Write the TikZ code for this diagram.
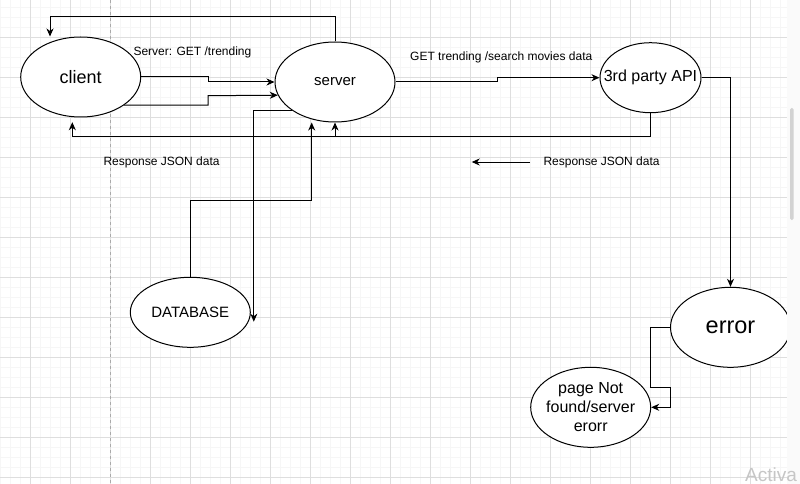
\documentclass[tikz,border=0pt]{standalone}
\usepackage{fontspec}
\setmainfont{Liberation Sans}
\usetikzlibrary{shapes.geometric,arrows.meta}
\definecolor{gmajor}{RGB}{222,222,222}
\definecolor{gminor}{RGB}{246,246,246}
\definecolor{gdash}{RGB}{170,170,170}
\begin{document}
\begin{tikzpicture}[x=1pt,y=-1pt,
  bub/.style={draw=black,line width=1pt,ellipse,inner sep=0pt,fill=white,align=center},
  arr/.style={draw=black,line width=1pt,-{Stealth[length=8pt,width=7pt,inset=2.5pt]}},
  lbl/.style={inner sep=0pt,anchor=west,font=\fontsize{12}{14}\selectfont}]
\useasboundingbox (0,0) rectangle (800,484);
\fill[white] (0,0) rectangle (800,484);
% grid
\begin{scope}
\clip (0,0) rectangle (787,484);
\foreach \x in {0,10,...,780} \draw[gminor,line width=1pt] (\x,0) -- (\x,484);
\foreach \y in {7.3,17.3,...,480} \draw[gminor,line width=1pt] (0,\y) -- (787,\y);
\foreach \x in {30,70,...,790} \draw[gmajor,line width=1pt] (\x,0) -- (\x,484);
\foreach \y in {-2.7,37.3,...,480} \draw[gmajor,line width=1pt] (0,\y) -- (787,\y);
\draw[gdash,line width=1pt,dash pattern=on 3pt off 3pt] (110,0) -- (110,484);
\end{scope}

% nodes
\node[bub,minimum width=120pt,minimum height=80pt,font=\fontsize{18}{21}\selectfont] (client) at (80.7,77) {client};
\node[bub,minimum width=120pt,minimum height=80pt,font=\fontsize{15}{18}\selectfont] (server) at (335,82) {server};
\node[bub,minimum width=101pt,minimum height=70pt,inner xsep=-12pt,font=\fontsize{16}{19}\selectfont] (api) at (650.5,77.7) {3rd party API};
\node[bub,minimum width=120pt,minimum height=70pt,font=\fontsize{15}{18}\selectfont] (db) at (190.3,312.3) {DATABASE};
\node[bub,minimum width=120pt,minimum height=80pt,font=\fontsize{23.5}{27}\selectfont] (error) at (730.5,327.3) {error};
\node[bub,minimum width=120pt,minimum height=80pt,inner sep=-4pt,font=\fontsize{16}{19}\selectfont] (page) at (590.7,407.3) {page Not\\found/server\\erorr};

% labels
\node[lbl] (l1) at (133.3,52) {Server: GET /trending};
\node[lbl] (l2) at (410,57) {GET trending /search movies data};
\node[lbl] (l3) at (103.3,162) {Response JSON data};
\node[lbl] (l4) at (543.3,162) {Response JSON data};

% connectors
\draw[arr] (server.north) -- (335,17) -| ([xshift=-30.7pt]client.north);
\draw[arr] (client.east) -- (208,77) |- (server.west);
\draw[arr] (client.-33) -| (208,95.7) -- (server.193.65);
\draw[arr] (server.east) -- (497.7,82) |- (api.west);
\draw[arr] (api.south) -- (650.5,136.7) -| ([xshift=-8.4pt,yshift=-4.7pt]client.south);
\coordinate (j) at (335,136.7);
\draw[arr] (j) -- (server.south);
\draw[arr] (db.north) -- (190.3,200) -| ([xshift=-23.3pt]server.south);
\draw[arr] (server.213.2) -| ([xshift=3pt,yshift=-9.4pt]db.east);
\draw[arr] (api.east) -| (error.north);
\draw[arr] (error.west) -- ++(-19.8,0) |- (670.7,387.3) |- (page.east);
\coordinate (r1) at (530,162);
\coordinate (r2) at (471.7,162);
\draw[arr] (r1) -- (r2);

% right strip and scrollbar
\fill[gminor!60] (787,0) rectangle (800,484);
\fill[gray!35,rounded corners=1.5pt] (790,108) rectangle (793.5,220);
\node[inner sep=0pt,anchor=base west,text=gray!45,font=\fontsize{19}{22}\selectfont] (wm) at (745,481) {Activa};
\end{tikzpicture}
\end{document}
